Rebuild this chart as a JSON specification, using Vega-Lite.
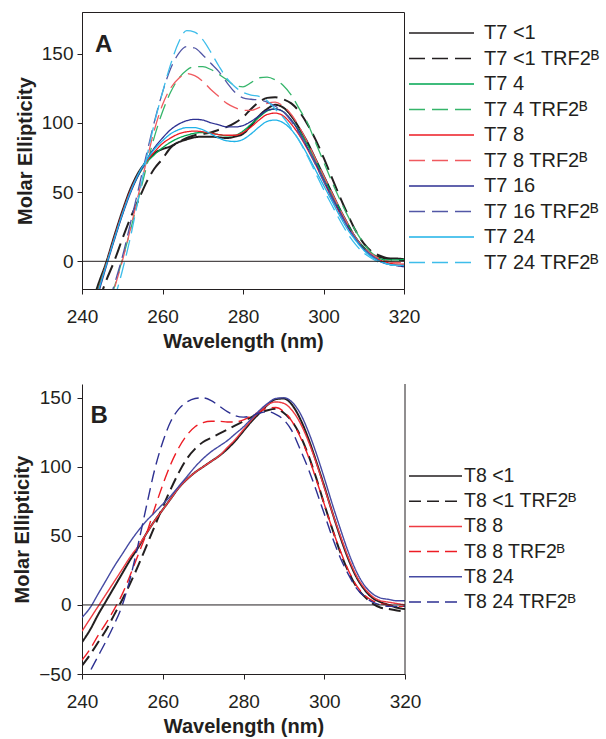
{
"$schema": "https://vega.github.io/schema/vega-lite/v6.json",
"padding": {"left": 12, "top": 11, "right": 4, "bottom": 2},
"autosize": {"type": "pad"},
"spacing": 31,
"resolve": {"scale": {"color": "independent", "strokeDash": "independent"}, "legend": {"color": "independent", "strokeDash": "independent"}},
"config": {
  "font": "Liberation Sans",
  "view": {"stroke": null},
  "axis": {"labelFont": "Liberation Sans", "labelFontSize": 19, "labelColor": "#231f20", "titleFont": "Liberation Sans", "titleFontSize": 20, "titleFontWeight": "bold", "titleColor": "#231f20", "domainColor": "#231f20", "tickColor": "#231f20", "grid": false, "tickSize": 5, "labelPadding": 13, "titlePadding": 5, "labelFlush": false},
  "axisY": {"labelPadding": 4, "titlePadding": 6}
},
"datasets": {
"a": [
{"w":240,"T7 <1":-52,"T7 <1 TRF2ᴮ":-60,"T7 4":-56,"T7 4 TRF2ᴮ":-70,"T7 8":-58,"T7 8 TRF2ᴮ":-80,"T7 16":-62,"T7 16 TRF2ᴮ":-75,"T7 24":-60,"T7 24 TRF2ᴮ":-90},
{"w":242,"T7 <1":-35,"T7 <1 TRF2ᴮ":-45,"T7 4":-38,"T7 4 TRF2ᴮ":-60,"T7 8":-40,"T7 8 TRF2ᴮ":-70,"T7 16":-45,"T7 16 TRF2ᴮ":-65,"T7 24":-42,"T7 24 TRF2ᴮ":-78},
{"w":244,"T7 <1":-17,"T7 <1 TRF2ᴮ":-30,"T7 4":-20,"T7 4 TRF2ᴮ":-45,"T7 8":-21,"T7 8 TRF2ᴮ":-58,"T7 16":-24,"T7 16 TRF2ᴮ":-52,"T7 24":-22,"T7 24 TRF2ᴮ":-64},
{"w":246,"T7 <1":-1,"T7 <1 TRF2ᴮ":-14,"T7 4":-2,"T7 4 TRF2ᴮ":-38,"T7 8":-2,"T7 8 TRF2ᴮ":-40,"T7 16":-4,"T7 16 TRF2ᴮ":-36,"T7 24":-3,"T7 24 TRF2ᴮ":-48},
{"w":248,"T7 <1":18,"T7 <1 TRF2ᴮ":0,"T7 4":16,"T7 4 TRF2ᴮ":-19,"T7 8":17,"T7 8 TRF2ᴮ":-20,"T7 16":15,"T7 16 TRF2ᴮ":-17,"T7 24":16,"T7 24 TRF2ᴮ":-28},
{"w":250,"T7 <1":36,"T7 <1 TRF2ᴮ":16,"T7 4":34,"T7 4 TRF2ᴮ":1,"T7 8":35,"T7 8 TRF2ᴮ":0,"T7 16":33,"T7 16 TRF2ᴮ":3,"T7 24":34,"T7 24 TRF2ᴮ":-7},
{"w":252,"T7 <1":52,"T7 <1 TRF2ᴮ":31,"T7 4":50,"T7 4 TRF2ᴮ":22,"T7 8":51,"T7 8 TRF2ᴮ":23,"T7 16":49,"T7 16 TRF2ᴮ":27,"T7 24":50,"T7 24 TRF2ᴮ":17},
{"w":254,"T7 <1":64,"T7 <1 TRF2ᴮ":44,"T7 4":62,"T7 4 TRF2ᴮ":45,"T7 8":63,"T7 8 TRF2ᴮ":48,"T7 16":62,"T7 16 TRF2ᴮ":52,"T7 24":63,"T7 24 TRF2ᴮ":45},
{"w":256,"T7 <1":72,"T7 <1 TRF2ᴮ":57,"T7 4":71,"T7 4 TRF2ᴮ":68,"T7 8":72,"T7 8 TRF2ᴮ":72,"T7 16":73,"T7 16 TRF2ᴮ":77,"T7 24":73,"T7 24 TRF2ᴮ":74},
{"w":258,"T7 <1":78,"T7 <1 TRF2ᴮ":67,"T7 4":77,"T7 4 TRF2ᴮ":90,"T7 8":79,"T7 8 TRF2ᴮ":95,"T7 16":82,"T7 16 TRF2ᴮ":101,"T7 24":81,"T7 24 TRF2ᴮ":100},
{"w":260,"T7 <1":81,"T7 <1 TRF2ᴮ":74,"T7 4":82,"T7 4 TRF2ᴮ":108,"T7 8":85,"T7 8 TRF2ᴮ":113,"T7 16":89,"T7 16 TRF2ᴮ":122,"T7 24":87,"T7 24 TRF2ᴮ":122},
{"w":262,"T7 <1":83,"T7 <1 TRF2ᴮ":82,"T7 4":86,"T7 4 TRF2ᴮ":122,"T7 8":89,"T7 8 TRF2ᴮ":125,"T7 16":95,"T7 16 TRF2ᴮ":139,"T7 24":92,"T7 24 TRF2ᴮ":142},
{"w":264,"T7 <1":86,"T7 <1 TRF2ᴮ":86,"T7 4":89,"T7 4 TRF2ᴮ":132,"T7 8":92,"T7 8 TRF2ᴮ":132,"T7 16":99,"T7 16 TRF2ᴮ":150,"T7 24":95,"T7 24 TRF2ᴮ":158},
{"w":266,"T7 <1":88,"T7 <1 TRF2ᴮ":89,"T7 4":91,"T7 4 TRF2ᴮ":138,"T7 8":93.5,"T7 8 TRF2ᴮ":135.5,"T7 16":101.5,"T7 16 TRF2ᴮ":155,"T7 24":96.5,"T7 24 TRF2ᴮ":166.5},
{"w":268,"T7 <1":89.5,"T7 <1 TRF2ᴮ":91,"T7 4":92.5,"T7 4 TRF2ᴮ":140.5,"T7 8":94,"T7 8 TRF2ᴮ":134,"T7 16":102.5,"T7 16 TRF2ᴮ":154,"T7 24":96.5,"T7 24 TRF2ᴮ":165.5},
{"w":270,"T7 <1":90,"T7 <1 TRF2ᴮ":92,"T7 4":93,"T7 4 TRF2ᴮ":140.5,"T7 8":93.5,"T7 8 TRF2ᴮ":130,"T7 16":102,"T7 16 TRF2ᴮ":149,"T7 24":95,"T7 24 TRF2ᴮ":160},
{"w":272,"T7 <1":90,"T7 <1 TRF2ᴮ":93,"T7 4":92.5,"T7 4 TRF2ᴮ":138.5,"T7 8":92.5,"T7 8 TRF2ᴮ":124,"T7 16":100,"T7 16 TRF2ᴮ":143,"T7 24":92,"T7 24 TRF2ᴮ":151},
{"w":274,"T7 <1":89.5,"T7 <1 TRF2ᴮ":95,"T7 4":91.5,"T7 4 TRF2ᴮ":135,"T7 8":91.5,"T7 8 TRF2ᴮ":119,"T7 16":98.5,"T7 16 TRF2ᴮ":137,"T7 24":89,"T7 24 TRF2ᴮ":141},
{"w":276,"T7 <1":89,"T7 <1 TRF2ᴮ":97,"T7 4":90.5,"T7 4 TRF2ᴮ":131,"T7 8":91,"T7 8 TRF2ᴮ":114,"T7 16":97,"T7 16 TRF2ᴮ":129,"T7 24":87,"T7 24 TRF2ᴮ":132},
{"w":278,"T7 <1":90,"T7 <1 TRF2ᴮ":100,"T7 4":91,"T7 4 TRF2ᴮ":127,"T7 8":91,"T7 8 TRF2ᴮ":111,"T7 16":97,"T7 16 TRF2ᴮ":122,"T7 24":86.5,"T7 24 TRF2ᴮ":126},
{"w":280,"T7 <1":92,"T7 <1 TRF2ᴮ":104,"T7 4":94,"T7 4 TRF2ᴮ":126,"T7 8":93,"T7 8 TRF2ᴮ":109,"T7 16":98,"T7 16 TRF2ᴮ":118,"T7 24":88,"T7 24 TRF2ᴮ":122},
{"w":282,"T7 <1":98,"T7 <1 TRF2ᴮ":110,"T7 4":99,"T7 4 TRF2ᴮ":129,"T7 8":97,"T7 8 TRF2ᴮ":109,"T7 16":101,"T7 16 TRF2ᴮ":117,"T7 24":92,"T7 24 TRF2ᴮ":120},
{"w":284,"T7 <1":105,"T7 <1 TRF2ᴮ":115,"T7 4":104,"T7 4 TRF2ᴮ":132.5,"T7 8":102,"T7 8 TRF2ᴮ":111,"T7 16":105,"T7 16 TRF2ᴮ":116.5,"T7 24":97,"T7 24 TRF2ᴮ":119},
{"w":286,"T7 <1":110,"T7 <1 TRF2ᴮ":118,"T7 4":108.5,"T7 4 TRF2ᴮ":133,"T7 8":106,"T7 8 TRF2ᴮ":114,"T7 16":109,"T7 16 TRF2ᴮ":115,"T7 24":101,"T7 24 TRF2ᴮ":116},
{"w":288,"T7 <1":113,"T7 <1 TRF2ᴮ":118.5,"T7 4":110,"T7 4 TRF2ᴮ":131,"T7 8":107,"T7 8 TRF2ᴮ":115,"T7 16":110,"T7 16 TRF2ᴮ":112,"T7 24":102,"T7 24 TRF2ᴮ":110},
{"w":290,"T7 <1":111,"T7 <1 TRF2ᴮ":117,"T7 4":108,"T7 4 TRF2ᴮ":127,"T7 8":105,"T7 8 TRF2ᴮ":112,"T7 16":108,"T7 16 TRF2ᴮ":108,"T7 24":100,"T7 24 TRF2ᴮ":104},
{"w":292,"T7 <1":105,"T7 <1 TRF2ᴮ":114,"T7 4":102,"T7 4 TRF2ᴮ":120,"T7 8":99,"T7 8 TRF2ᴮ":106,"T7 16":102,"T7 16 TRF2ᴮ":101,"T7 24":95,"T7 24 TRF2ᴮ":96},
{"w":294,"T7 <1":96,"T7 <1 TRF2ᴮ":108,"T7 4":94,"T7 4 TRF2ᴮ":110,"T7 8":91,"T7 8 TRF2ᴮ":97,"T7 16":93,"T7 16 TRF2ᴮ":92,"T7 24":87,"T7 24 TRF2ᴮ":87},
{"w":296,"T7 <1":86,"T7 <1 TRF2ᴮ":99,"T7 4":84,"T7 4 TRF2ᴮ":100,"T7 8":81,"T7 8 TRF2ᴮ":86,"T7 16":82,"T7 16 TRF2ᴮ":82,"T7 24":77,"T7 24 TRF2ᴮ":76},
{"w":298,"T7 <1":74,"T7 <1 TRF2ᴮ":88,"T7 4":73,"T7 4 TRF2ᴮ":86,"T7 8":70,"T7 8 TRF2ᴮ":74,"T7 16":71,"T7 16 TRF2ᴮ":70,"T7 24":66,"T7 24 TRF2ᴮ":64},
{"w":300,"T7 <1":62,"T7 <1 TRF2ᴮ":75,"T7 4":61,"T7 4 TRF2ᴮ":72,"T7 8":58,"T7 8 TRF2ᴮ":62,"T7 16":59,"T7 16 TRF2ᴮ":58,"T7 24":55,"T7 24 TRF2ᴮ":52},
{"w":302,"T7 <1":50,"T7 <1 TRF2ᴮ":61,"T7 4":49,"T7 4 TRF2ᴮ":58,"T7 8":46,"T7 8 TRF2ᴮ":50,"T7 16":47,"T7 16 TRF2ᴮ":46,"T7 24":44,"T7 24 TRF2ᴮ":41},
{"w":304,"T7 <1":38,"T7 <1 TRF2ᴮ":47,"T7 4":38,"T7 4 TRF2ᴮ":45,"T7 8":35,"T7 8 TRF2ᴮ":38,"T7 16":36,"T7 16 TRF2ᴮ":35,"T7 24":33,"T7 24 TRF2ᴮ":30},
{"w":306,"T7 <1":27,"T7 <1 TRF2ᴮ":34,"T7 4":27,"T7 4 TRF2ᴮ":33,"T7 8":25,"T7 8 TRF2ᴮ":27,"T7 16":25,"T7 16 TRF2ᴮ":25,"T7 24":23,"T7 24 TRF2ᴮ":20},
{"w":308,"T7 <1":17,"T7 <1 TRF2ᴮ":22,"T7 4":17,"T7 4 TRF2ᴮ":22,"T7 8":16,"T7 8 TRF2ᴮ":17,"T7 16":16,"T7 16 TRF2ᴮ":16,"T7 24":15,"T7 24 TRF2ᴮ":12},
{"w":310,"T7 <1":10,"T7 <1 TRF2ᴮ":13,"T7 4":10,"T7 4 TRF2ᴮ":13,"T7 8":9,"T7 8 TRF2ᴮ":10,"T7 16":9,"T7 16 TRF2ᴮ":9,"T7 24":8,"T7 24 TRF2ᴮ":6},
{"w":312,"T7 <1":5,"T7 <1 TRF2ᴮ":7,"T7 4":5,"T7 4 TRF2ᴮ":6,"T7 8":4,"T7 8 TRF2ᴮ":5,"T7 16":4,"T7 16 TRF2ᴮ":4,"T7 24":3,"T7 24 TRF2ᴮ":2},
{"w":314,"T7 <1":3,"T7 <1 TRF2ᴮ":4,"T7 4":2,"T7 4 TRF2ᴮ":2,"T7 8":1,"T7 8 TRF2ᴮ":2,"T7 16":0,"T7 16 TRF2ᴮ":0,"T7 24":0,"T7 24 TRF2ᴮ":-1},
{"w":316,"T7 <1":2,"T7 <1 TRF2ᴮ":2,"T7 4":1,"T7 4 TRF2ᴮ":0,"T7 8":-1,"T7 8 TRF2ᴮ":0,"T7 16":-2,"T7 16 TRF2ᴮ":-2,"T7 24":-2,"T7 24 TRF2ᴮ":-2},
{"w":318,"T7 <1":2,"T7 <1 TRF2ᴮ":1,"T7 4":1,"T7 4 TRF2ᴮ":-1,"T7 8":-2,"T7 8 TRF2ᴮ":-1,"T7 16":-3,"T7 16 TRF2ᴮ":-3,"T7 24":-3,"T7 24 TRF2ᴮ":-3},
{"w":320,"T7 <1":1.5,"T7 <1 TRF2ᴮ":1,"T7 4":1.5,"T7 4 TRF2ᴮ":1,"T7 8":-2,"T7 8 TRF2ᴮ":-1,"T7 16":-4,"T7 16 TRF2ᴮ":-4,"T7 24":-3,"T7 24 TRF2ᴮ":-3}
],
"b": [
{"w":240,"T8 <1":-27,"T8 <1 TRF2ᴮ":-44,"T8 8":-19,"T8 8 TRF2ᴮ":-40,"T8 24":-9,"T8 24 TRF2ᴮ":-58},
{"w":242,"T8 <1":-18,"T8 <1 TRF2ᴮ":-36,"T8 8":-10,"T8 8 TRF2ᴮ":-32,"T8 24":-2,"T8 24 TRF2ᴮ":-48},
{"w":244,"T8 <1":-7,"T8 <1 TRF2ᴮ":-27,"T8 8":-1,"T8 8 TRF2ᴮ":-22,"T8 24":8,"T8 24 TRF2ᴮ":-37},
{"w":246,"T8 <1":3,"T8 <1 TRF2ᴮ":-18,"T8 8":8,"T8 8 TRF2ᴮ":-13,"T8 24":18,"T8 24 TRF2ᴮ":-26},
{"w":248,"T8 <1":13,"T8 <1 TRF2ᴮ":-7,"T8 8":17,"T8 8 TRF2ᴮ":-3,"T8 24":28,"T8 24 TRF2ᴮ":-14},
{"w":250,"T8 <1":23,"T8 <1 TRF2ᴮ":4,"T8 8":26,"T8 8 TRF2ᴮ":8,"T8 24":37,"T8 24 TRF2ᴮ":0},
{"w":252,"T8 <1":33,"T8 <1 TRF2ᴮ":16,"T8 8":35,"T8 8 TRF2ᴮ":22,"T8 24":46,"T8 24 TRF2ᴮ":20},
{"w":254,"T8 <1":42,"T8 <1 TRF2ᴮ":29,"T8 8":43,"T8 8 TRF2ᴮ":37,"T8 24":54,"T8 24 TRF2ᴮ":45},
{"w":256,"T8 <1":52,"T8 <1 TRF2ᴮ":43,"T8 8":52,"T8 8 TRF2ᴮ":52,"T8 24":61,"T8 24 TRF2ᴮ":72},
{"w":258,"T8 <1":61,"T8 <1 TRF2ᴮ":57,"T8 8":61,"T8 8 TRF2ᴮ":70,"T8 24":67,"T8 24 TRF2ᴮ":98},
{"w":260,"T8 <1":69,"T8 <1 TRF2ᴮ":71,"T8 8":69,"T8 8 TRF2ᴮ":87,"T8 24":73,"T8 24 TRF2ᴮ":118},
{"w":262,"T8 <1":77,"T8 <1 TRF2ᴮ":84,"T8 8":77,"T8 8 TRF2ᴮ":102,"T8 24":79,"T8 24 TRF2ᴮ":133},
{"w":264,"T8 <1":85,"T8 <1 TRF2ᴮ":96,"T8 8":85,"T8 8 TRF2ᴮ":114,"T8 24":86,"T8 24 TRF2ᴮ":142},
{"w":266,"T8 <1":91,"T8 <1 TRF2ᴮ":106,"T8 8":91,"T8 8 TRF2ᴮ":123,"T8 24":93,"T8 24 TRF2ᴮ":147},
{"w":268,"T8 <1":96,"T8 <1 TRF2ᴮ":113,"T8 8":96,"T8 8 TRF2ᴮ":129,"T8 24":100,"T8 24 TRF2ᴮ":149.5},
{"w":270,"T8 <1":100,"T8 <1 TRF2ᴮ":118,"T8 8":100,"T8 8 TRF2ᴮ":132,"T8 24":106,"T8 24 TRF2ᴮ":150},
{"w":272,"T8 <1":104,"T8 <1 TRF2ᴮ":121,"T8 8":104,"T8 8 TRF2ᴮ":133,"T8 24":111,"T8 24 TRF2ᴮ":148},
{"w":274,"T8 <1":108,"T8 <1 TRF2ᴮ":124,"T8 8":108,"T8 8 TRF2ᴮ":133,"T8 24":115,"T8 24 TRF2ᴮ":144},
{"w":276,"T8 <1":113,"T8 <1 TRF2ᴮ":127,"T8 8":114,"T8 8 TRF2ᴮ":132.5,"T8 24":119,"T8 24 TRF2ᴮ":140},
{"w":278,"T8 <1":119,"T8 <1 TRF2ᴮ":130,"T8 8":120,"T8 8 TRF2ᴮ":132.5,"T8 24":124,"T8 24 TRF2ᴮ":137},
{"w":280,"T8 <1":126,"T8 <1 TRF2ᴮ":133,"T8 8":127,"T8 8 TRF2ᴮ":134,"T8 24":129,"T8 24 TRF2ᴮ":136},
{"w":282,"T8 <1":133,"T8 <1 TRF2ᴮ":136,"T8 8":134,"T8 8 TRF2ᴮ":137,"T8 24":135,"T8 24 TRF2ᴮ":137},
{"w":284,"T8 <1":139,"T8 <1 TRF2ᴮ":139,"T8 8":140,"T8 8 TRF2ᴮ":140,"T8 24":141,"T8 24 TRF2ᴮ":139},
{"w":286,"T8 <1":145,"T8 <1 TRF2ᴮ":141,"T8 8":145,"T8 8 TRF2ᴮ":142.5,"T8 24":146,"T8 24 TRF2ᴮ":140},
{"w":288,"T8 <1":149,"T8 <1 TRF2ᴮ":142,"T8 8":147,"T8 8 TRF2ᴮ":143,"T8 24":149.5,"T8 24 TRF2ᴮ":138},
{"w":290,"T8 <1":149.5,"T8 <1 TRF2ᴮ":139,"T8 8":146,"T8 8 TRF2ᴮ":140,"T8 24":150,"T8 24 TRF2ᴮ":134},
{"w":292,"T8 <1":145,"T8 <1 TRF2ᴮ":133,"T8 8":141,"T8 8 TRF2ᴮ":133,"T8 24":147,"T8 24 TRF2ᴮ":126},
{"w":294,"T8 <1":135,"T8 <1 TRF2ᴮ":123,"T8 8":132,"T8 8 TRF2ᴮ":122,"T8 24":139,"T8 24 TRF2ᴮ":113},
{"w":296,"T8 <1":121,"T8 <1 TRF2ᴮ":109,"T8 8":119,"T8 8 TRF2ᴮ":108,"T8 24":126,"T8 24 TRF2ᴮ":99},
{"w":298,"T8 <1":104,"T8 <1 TRF2ᴮ":92,"T8 8":103,"T8 8 TRF2ᴮ":91,"T8 24":110,"T8 24 TRF2ᴮ":83},
{"w":300,"T8 <1":86,"T8 <1 TRF2ᴮ":73,"T8 8":85,"T8 8 TRF2ᴮ":73,"T8 24":92,"T8 24 TRF2ᴮ":66},
{"w":302,"T8 <1":67,"T8 <1 TRF2ᴮ":55,"T8 8":67,"T8 8 TRF2ᴮ":55,"T8 24":73,"T8 24 TRF2ᴮ":49},
{"w":304,"T8 <1":49,"T8 <1 TRF2ᴮ":38,"T8 8":50,"T8 8 TRF2ᴮ":39,"T8 24":55,"T8 24 TRF2ᴮ":34},
{"w":306,"T8 <1":33,"T8 <1 TRF2ᴮ":24,"T8 8":34,"T8 8 TRF2ᴮ":25,"T8 24":38,"T8 24 TRF2ᴮ":22},
{"w":308,"T8 <1":20,"T8 <1 TRF2ᴮ":13,"T8 8":21,"T8 8 TRF2ᴮ":14,"T8 24":24,"T8 24 TRF2ᴮ":12},
{"w":310,"T8 <1":11,"T8 <1 TRF2ᴮ":6,"T8 8":12,"T8 8 TRF2ᴮ":7,"T8 24":14,"T8 24 TRF2ᴮ":6},
{"w":312,"T8 <1":5,"T8 <1 TRF2ᴮ":1,"T8 8":6,"T8 8 TRF2ᴮ":3,"T8 24":8,"T8 24 TRF2ᴮ":2},
{"w":314,"T8 <1":2,"T8 <1 TRF2ᴮ":-2,"T8 8":3,"T8 8 TRF2ᴮ":1,"T8 24":5,"T8 24 TRF2ᴮ":0},
{"w":316,"T8 <1":0,"T8 <1 TRF2ᴮ":-3,"T8 8":2,"T8 8 TRF2ᴮ":0,"T8 24":4,"T8 24 TRF2ᴮ":-1},
{"w":318,"T8 <1":-2,"T8 <1 TRF2ᴮ":-4,"T8 8":1,"T8 8 TRF2ᴮ":-1,"T8 24":3,"T8 24 TRF2ᴮ":-1},
{"w":320,"T8 <1":-3,"T8 <1 TRF2ᴮ":-5,"T8 8":0,"T8 8 TRF2ᴮ":-1,"T8 24":3,"T8 24 TRF2ᴮ":-1}
]
},
"vconcat": [
{
  "width": 322, "height": 277,
  "view": {"stroke": "#231f20", "strokeWidth": 1},
  "layer": [
    {
      "data": {"name": "a"},
      "transform": [{"fold": ["T7 <1","T7 <1 TRF2ᴮ","T7 4","T7 4 TRF2ᴮ","T7 8","T7 8 TRF2ᴮ","T7 16","T7 16 TRF2ᴮ","T7 24","T7 24 TRF2ᴮ"], "as": ["series","value"]}, {"filter": {"field": "series", "oneOf": ["T7 <1","T7 <1 TRF2ᴮ"]}}],
      "mark": {"type": "line", "interpolate": "monotone", "clip": true, "strokeWidth": 2},
      "encoding": {
        "x": {"field": "w", "type": "quantitative", "scale": {"domain": [240,320], "nice": false}, "axis": {"values": [240,260,280,300,320], "title": "Wavelength (nm)"}},
        "y": {"field": "value", "type": "quantitative", "scale": {"domain": [-20,180], "nice": false}, "axis": {"values": [0,50,100,150], "title": "Molar Ellipticity"}},
        "color": {"field": "series", "type": "nominal", "scale": {"domain": ["T7 <1","T7 <1 TRF2ᴮ","T7 4","T7 4 TRF2ᴮ","T7 8","T7 8 TRF2ᴮ","T7 16","T7 16 TRF2ᴮ","T7 24","T7 24 TRF2ᴮ"], "range": ["#231f20","#231f20","#00a651","#35b56a","#ed1c24","#f05a5f","#2e3192","#5257a6","#1fb2e8","#3dbdea"]},
          "legend": {"title": null, "orient": "none", "legendX": 326, "legendY": 11, "symbolType": "stroke", "symbolSize": 4225, "symbolStrokeWidth": 1.5, "labelFontSize": 20, "labelFont": "Liberation Sans", "labelColor": "#231f20", "labelOffset": 9, "labelLimit": 0, "clipHeight": 20, "rowPadding": 5.5, "padding": 0}},
        "strokeDash": {"field": "series", "type": "nominal", "scale": {"domain": ["T7 <1","T7 <1 TRF2ᴮ","T7 4","T7 4 TRF2ᴮ","T7 8","T7 8 TRF2ᴮ","T7 16","T7 16 TRF2ᴮ","T7 24","T7 24 TRF2ᴮ"], "range": [[1,0],[16,7],[1,0],[16,7],[1,0],[16,7],[1,0],[16,7],[1,0],[16,7]]},
          "legend": {"title": null, "orient": "none", "legendX": 326, "legendY": 11, "symbolType": "stroke", "symbolSize": 4225, "symbolStrokeWidth": 1.5, "labelFontSize": 20, "labelFont": "Liberation Sans", "labelColor": "#231f20", "labelOffset": 9, "labelLimit": 0, "clipHeight": 20, "rowPadding": 5.5, "padding": 0}}
      }
    },
    {
      "data": {"name": "a"},
      "transform": [{"fold": ["T7 <1","T7 <1 TRF2ᴮ","T7 4","T7 4 TRF2ᴮ","T7 8","T7 8 TRF2ᴮ","T7 16","T7 16 TRF2ᴮ","T7 24","T7 24 TRF2ᴮ"], "as": ["series","value"]}, {"filter": {"not": {"field": "series", "oneOf": ["T7 <1","T7 <1 TRF2ᴮ"]}}}],
      "mark": {"type": "line", "interpolate": "monotone", "clip": true, "strokeWidth": 1.3},
      "encoding": {
        "x": {"field": "w", "type": "quantitative"},
        "y": {"field": "value", "type": "quantitative"},
        "color": {"field": "series", "type": "nominal"},
        "strokeDash": {"field": "series", "type": "nominal"}
      }
    },
    {
      "data": {"values": [{}]},
      "mark": {"type": "rule", "color": "#231f20", "strokeWidth": 1},
      "encoding": {"y": {"datum": 0}}
    },
    {
      "data": {"values": [{}]},
      "mark": {"type": "text", "text": "A", "fontSize": 24, "fontWeight": "bold", "font": "Liberation Sans", "align": "left", "baseline": "alphabetic", "color": "#231f20"},
      "encoding": {"x": {"datum": 243.2}, "y": {"datum": 151}}
    }
  ]
},
{
  "width": 323, "height": 290,
  "layer": [
    {
      "data": {"name": "b"},
      "transform": [{"fold": ["T8 <1","T8 <1 TRF2ᴮ","T8 8","T8 8 TRF2ᴮ","T8 24","T8 24 TRF2ᴮ"], "as": ["series","value"]}, {"filter": {"field": "series", "oneOf": ["T8 <1","T8 <1 TRF2ᴮ"]}}],
      "mark": {"type": "line", "interpolate": "monotone", "clip": true, "strokeWidth": 2},
      "encoding": {
        "x": {"field": "w", "type": "quantitative", "scale": {"domain": [240,320], "nice": false}, "axis": {"values": [240,260,280,300,320], "title": "Wavelength (nm)"}},
        "y": {"field": "value", "type": "quantitative", "scale": {"domain": [-50,160], "nice": false}, "axis": {"values": [-50,0,50,100,150], "title": "Molar Ellipticity", "labelPadding": 6, "titlePadding": 6}},
        "color": {"field": "series", "type": "nominal", "scale": {"domain": ["T8 <1","T8 <1 TRF2ᴮ","T8 8","T8 8 TRF2ᴮ","T8 24","T8 24 TRF2ᴮ"], "range": ["#231f20","#231f20","#ee3b42","#ed1c24","#454aa3","#2e3192"]},
          "legend": {"title": null, "orient": "none", "legendX": 326, "legendY": 82, "symbolType": "stroke", "symbolSize": 2809, "symbolStrokeWidth": 1.5, "labelFontSize": 19.5, "labelFont": "Liberation Sans", "labelColor": "#231f20", "labelOffset": 1, "labelLimit": 0, "clipHeight": 20, "rowPadding": 5.2, "padding": 0}},
        "strokeDash": {"field": "series", "type": "nominal", "scale": {"domain": ["T8 <1","T8 <1 TRF2ᴮ","T8 8","T8 8 TRF2ᴮ","T8 24","T8 24 TRF2ᴮ"], "range": [[1,0],[12,6],[1,0],[12,6],[1,0],[12,6]]},
          "legend": {"title": null, "orient": "none", "legendX": 326, "legendY": 82, "symbolType": "stroke", "symbolSize": 2809, "symbolStrokeWidth": 1.5, "labelFontSize": 19.5, "labelFont": "Liberation Sans", "labelColor": "#231f20", "labelOffset": 1, "labelLimit": 0, "clipHeight": 20, "rowPadding": 5.2, "padding": 0}}
      }
    },
    {
      "data": {"name": "b"},
      "transform": [{"fold": ["T8 <1","T8 <1 TRF2ᴮ","T8 8","T8 8 TRF2ᴮ","T8 24","T8 24 TRF2ᴮ"], "as": ["series","value"]}, {"filter": {"not": {"field": "series", "oneOf": ["T8 <1","T8 <1 TRF2ᴮ"]}}}],
      "mark": {"type": "line", "interpolate": "monotone", "clip": true, "strokeWidth": 1.4},
      "encoding": {
        "x": {"field": "w", "type": "quantitative"},
        "y": {"field": "value", "type": "quantitative"},
        "color": {"field": "series", "type": "nominal"},
        "strokeDash": {"field": "series", "type": "nominal"}
      }
    },
    {
      "data": {"values": [{}]},
      "mark": {"type": "rule", "color": "#231f20", "strokeWidth": 1},
      "encoding": {"y": {"datum": 0}}
    },
    {
      "data": {"values": [{}]},
      "mark": {"type": "rule", "color": "#231f20", "strokeWidth": 1},
      "encoding": {"x": {"datum": 320}}
    },
    {
      "data": {"values": [{}]},
      "mark": {"type": "text", "text": "B", "fontSize": 24, "fontWeight": "bold", "font": "Liberation Sans", "align": "left", "baseline": "alphabetic", "color": "#231f20"},
      "encoding": {"x": {"datum": 242.1}, "y": {"datum": 132}}
    }
  ]
}
]
}
